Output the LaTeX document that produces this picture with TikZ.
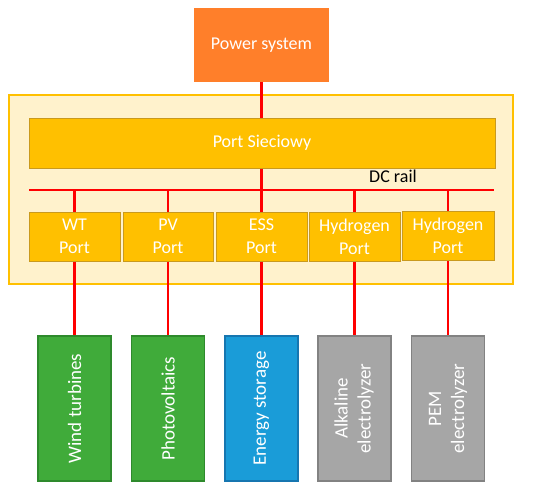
\documentclass[tikz,border=0pt]{standalone}
\usepackage{fontspec}
\setmainfont{Carlito}
\definecolor{psorange}{HTML}{FF7F2A}
\definecolor{gold}{HTML}{FFC000}
\definecolor{goldline}{HTML}{C99A1E}
\definecolor{cream}{HTML}{FFF2CC}
\definecolor{grn}{HTML}{40AB3A}
\definecolor{grnline}{HTML}{2E8A2C}
\definecolor{blu}{HTML}{1A9CD8}
\definecolor{bluline}{HTML}{1676B0}
\definecolor{gry}{HTML}{A6A6A6}
\definecolor{gryline}{HTML}{828282}
\definecolor{rail}{HTML}{FF0000}
\tikzset{
  lbl/.style={font=\fontsize{18}{23}\selectfont, text=white, align=center, inner sep=0pt},
  portbox/.style={lbl, draw=goldline, fill=gold, line width=1pt, minimum height=49pt},
  devbox/.style={lbl, font=\fontsize{19}{23}\selectfont, line width=1.2pt, minimum width=73pt, minimum height=145pt},
  wire/.style={draw=rail, line width=2.5pt}
}
\begin{document}
\begin{tikzpicture}[x=1pt, y=-1pt]
\useasboundingbox (0,0) rectangle (550,491);
\node[draw=gold, fill=cream, line width=1.5pt, minimum width=504pt, minimum height=189pt, inner sep=0pt] (frame) at (261,189.5) {};
\node[lbl, fill=psorange, minimum width=135pt, minimum height=74pt] (ps) at (261.5,45) {Power system};
\node[portbox, minimum width=466pt, minimum height=50pt] (sie) at (262,143) {Port Sieciowy};
\coordinate (railW) at (29,190);
\coordinate (railE) at (494,190);
\node[font=\fontsize{18}{23}\selectfont, inner sep=0pt] (dclbl) at (393,176) {DC rail};
\node[portbox, minimum width=91pt] (wt) at (74.5,236.5) {WT\\Port};
\node[portbox, minimum width=90pt] (pv) at (168,236.5) {PV\\Port};
\node[portbox, minimum width=91pt] (ess) at (261.5,236.5) {ESS\\Port};
\node[portbox, minimum width=91pt] (h1) at (354.5,236.5) {Hydrogen\\Port};
\node[portbox, minimum width=92pt] (h2) at (448,236) {Hydrogen\\Port};
\node[devbox, fill=grn, draw=grnline] (wtb) at (74.5,408.5) {\rotatebox{90}{Wind turbines}};
\node[devbox, fill=grn, draw=grnline] (pvb) at (168,408.5) {\rotatebox{90}{Photovoltaics}};
\node[devbox, fill=blu, draw=bluline] (essb) at (261.5,408.5) {\rotatebox{90}{Energy storage}};
\node[devbox, fill=gry, draw=gryline] (alk) at (354.5,408.5) {\rotatebox{90}{\begin{tabular}{@{}c@{}}Alkaline\\electrolyzer\end{tabular}}};
\node[devbox, fill=gry, draw=gryline] (pem) at (448,408.5) {\rotatebox{90}{\begin{tabular}{@{}c@{}}PEM\\electrolyzer\end{tabular}}};
\draw[wire] (ps.south) -- (sie.north -| ps.south);
\draw[wire] (sie.south -| ess.north) -- (railW -| ess.north);
\draw[wire] (railW) -- (railE);
\foreach \p/\d in {wt/wtb, pv/pvb, ess/essb, h1/alk, h2/pem} {
  \draw[wire] (railW -| \p.north) -- (\p.north);
  \draw[wire] (\p.south) -- (\d.north);
}
\end{tikzpicture}
\end{document}
